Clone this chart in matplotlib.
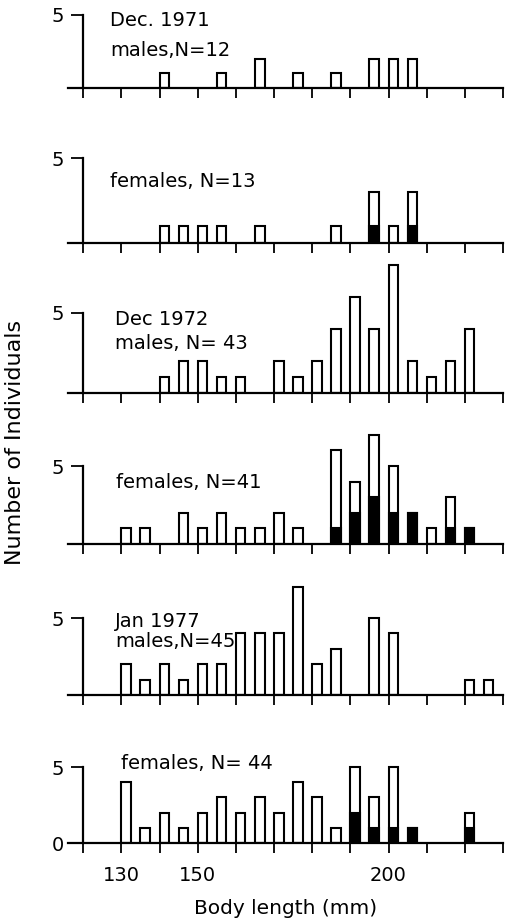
import numpy as np
import matplotlib.pyplot as plt

# body length classes (mm, lower edge of 5 mm bins) and counts per sample
len_m71 = [140, 155, 165, 175, 185, 195, 200, 205]
cnt_m71 = [1, 1, 2, 1, 1, 2, 2, 2]
blk_m71 = [0, 0, 0, 0, 0, 0, 0, 0]

len_f71 = [140, 145, 150, 155, 165, 185, 195, 200, 205]
cnt_f71 = [1, 1, 1, 1, 1, 1, 3, 1, 3]
blk_f71 = [0, 0, 0, 0, 0, 0, 1, 0, 1]

len_m72 = [140, 145, 150, 155, 160, 170, 175, 180, 185, 190, 195, 200, 205, 210, 215, 220]
cnt_m72 = [1, 2, 2, 1, 1, 2, 1, 2, 4, 6, 4, 8, 2, 1, 2, 4]
blk_m72 = [0] * len(len_m72)

len_f72 = [130, 135, 145, 150, 155, 160, 165, 170, 175, 185, 190, 195, 200, 205, 210, 215, 220]
cnt_f72 = [1, 1, 2, 1, 2, 1, 1, 2, 1, 6, 4, 7, 5, 2, 1, 3, 1]
blk_f72 = [0, 0, 0, 0, 0, 0, 0, 0, 0, 1, 2, 3, 2, 2, 0, 1, 1]

len_m77 = [130, 135, 140, 145, 150, 155, 160, 165, 170, 175, 180, 185, 195, 200, 220, 225]
cnt_m77 = [2, 1, 2, 1, 2, 2, 4, 4, 4, 7, 2, 3, 5, 4, 1, 1]
blk_m77 = [0] * len(len_m77)

len_f77 = [130, 135, 140, 145, 150, 155, 160, 165, 170, 175, 180, 185, 190, 195, 200, 205, 220]
cnt_f77 = [4, 1, 2, 1, 2, 3, 2, 3, 2, 4, 3, 1, 5, 3, 5, 1, 2]
blk_f77 = [0, 0, 0, 0, 0, 0, 0, 0, 0, 0, 0, 0, 2, 1, 1, 1, 1]

titles = [["Dec. 1971", "males,N=12"],
          ["females, N=13"],
          ["Dec 1972", "males, N= 43"],
          ["females, N=41"],
          ["Jan 1977", "males,N=45"],
          ["females, N= 44"]]
panels = [(len_m71, cnt_m71, blk_m71), (len_f71, cnt_f71, blk_f71),
          (len_m72, cnt_m72, blk_m72), (len_f72, cnt_f72, blk_f72),
          (len_m77, cnt_m77, blk_m77), (len_f77, cnt_f77, blk_f77)]

# layout in pixels: baseline row and the row of the "5" tick for each panel
W, H = 513, 921
base_px = [88, 243, 393, 544, 695, 843]
five_px = [15, 158, 313, 466, 618, 767]
text_pos = [[(127, 4.6), (127, 2.6)], [(127, 3.6)], [(128.3, 4.6), (128.3, 3.1)],
            [(128.6, 3.95)], [(128.3, 4.75), (128.3, 3.45)], [(130, 5.2)]]

x0_px, x1_px = 68, 503
xmin, xmax = 116, 230
ymax = 9

fig = plt.figure(figsize=(W / 100, H / 100), dpi=100)

for i, (lens, cnts, blks) in enumerate(panels):
    scale = (base_px[i] - five_px[i]) / 5.0
    ax = fig.add_axes([x0_px / W, (H - base_px[i]) / H, (x1_px - x0_px) / W, ymax * scale / H])
    ax.patch.set_alpha(0)
    ax.bar(lens, cnts, width=2.5, align='edge', facecolor='white', edgecolor='black', linewidth=1.5, zorder=2)
    ax.bar(lens, blks, width=2.5, align='edge', facecolor='black', edgecolor='black', linewidth=1.5, zorder=3)
    ax.set_xlim(xmin, xmax)
    ax.set_ylim(0, ymax)
    for s in ['top', 'right']:
        ax.spines[s].set_visible(False)
    ax.spines['left'].set_position(('data', 120))
    ax.spines['left'].set_bounds(0, 5)
    ax.spines['left'].set_linewidth(1.6)
    ax.spines['bottom'].set_linewidth(1.6)
    ax.set_xticks(np.arange(120, 231, 10))
    ax.tick_params(axis='x', direction='out', length=7.5, width=1.3, pad=9, labelsize=14)
    ax.tick_params(axis='y', direction='out', length=9, width=1.3, pad=5, labelsize=14)
    if i == len(panels) - 1:
        ax.set_yticks([0, 5])
        ax.set_xticklabels(['130' if t == 130 else '150' if t == 150 else '200' if t == 200 else ''
                            for t in range(120, 231, 10)])
        ax.set_xlabel('Body length (mm)', fontsize=14.5, labelpad=10)
    else:
        ax.set_yticks([5])
        ax.set_xticklabels([])
    for txt, (tx, ty) in zip(titles[i], text_pos[i]):
        ax.text(tx, ty, txt, fontsize=14, ha='left', va='center')

fig.text(15 / W, 1 - 442 / H, 'Number of Individuals', rotation=90, fontsize=16, ha='center', va='center')

plt.savefig('out.png', dpi=100)
